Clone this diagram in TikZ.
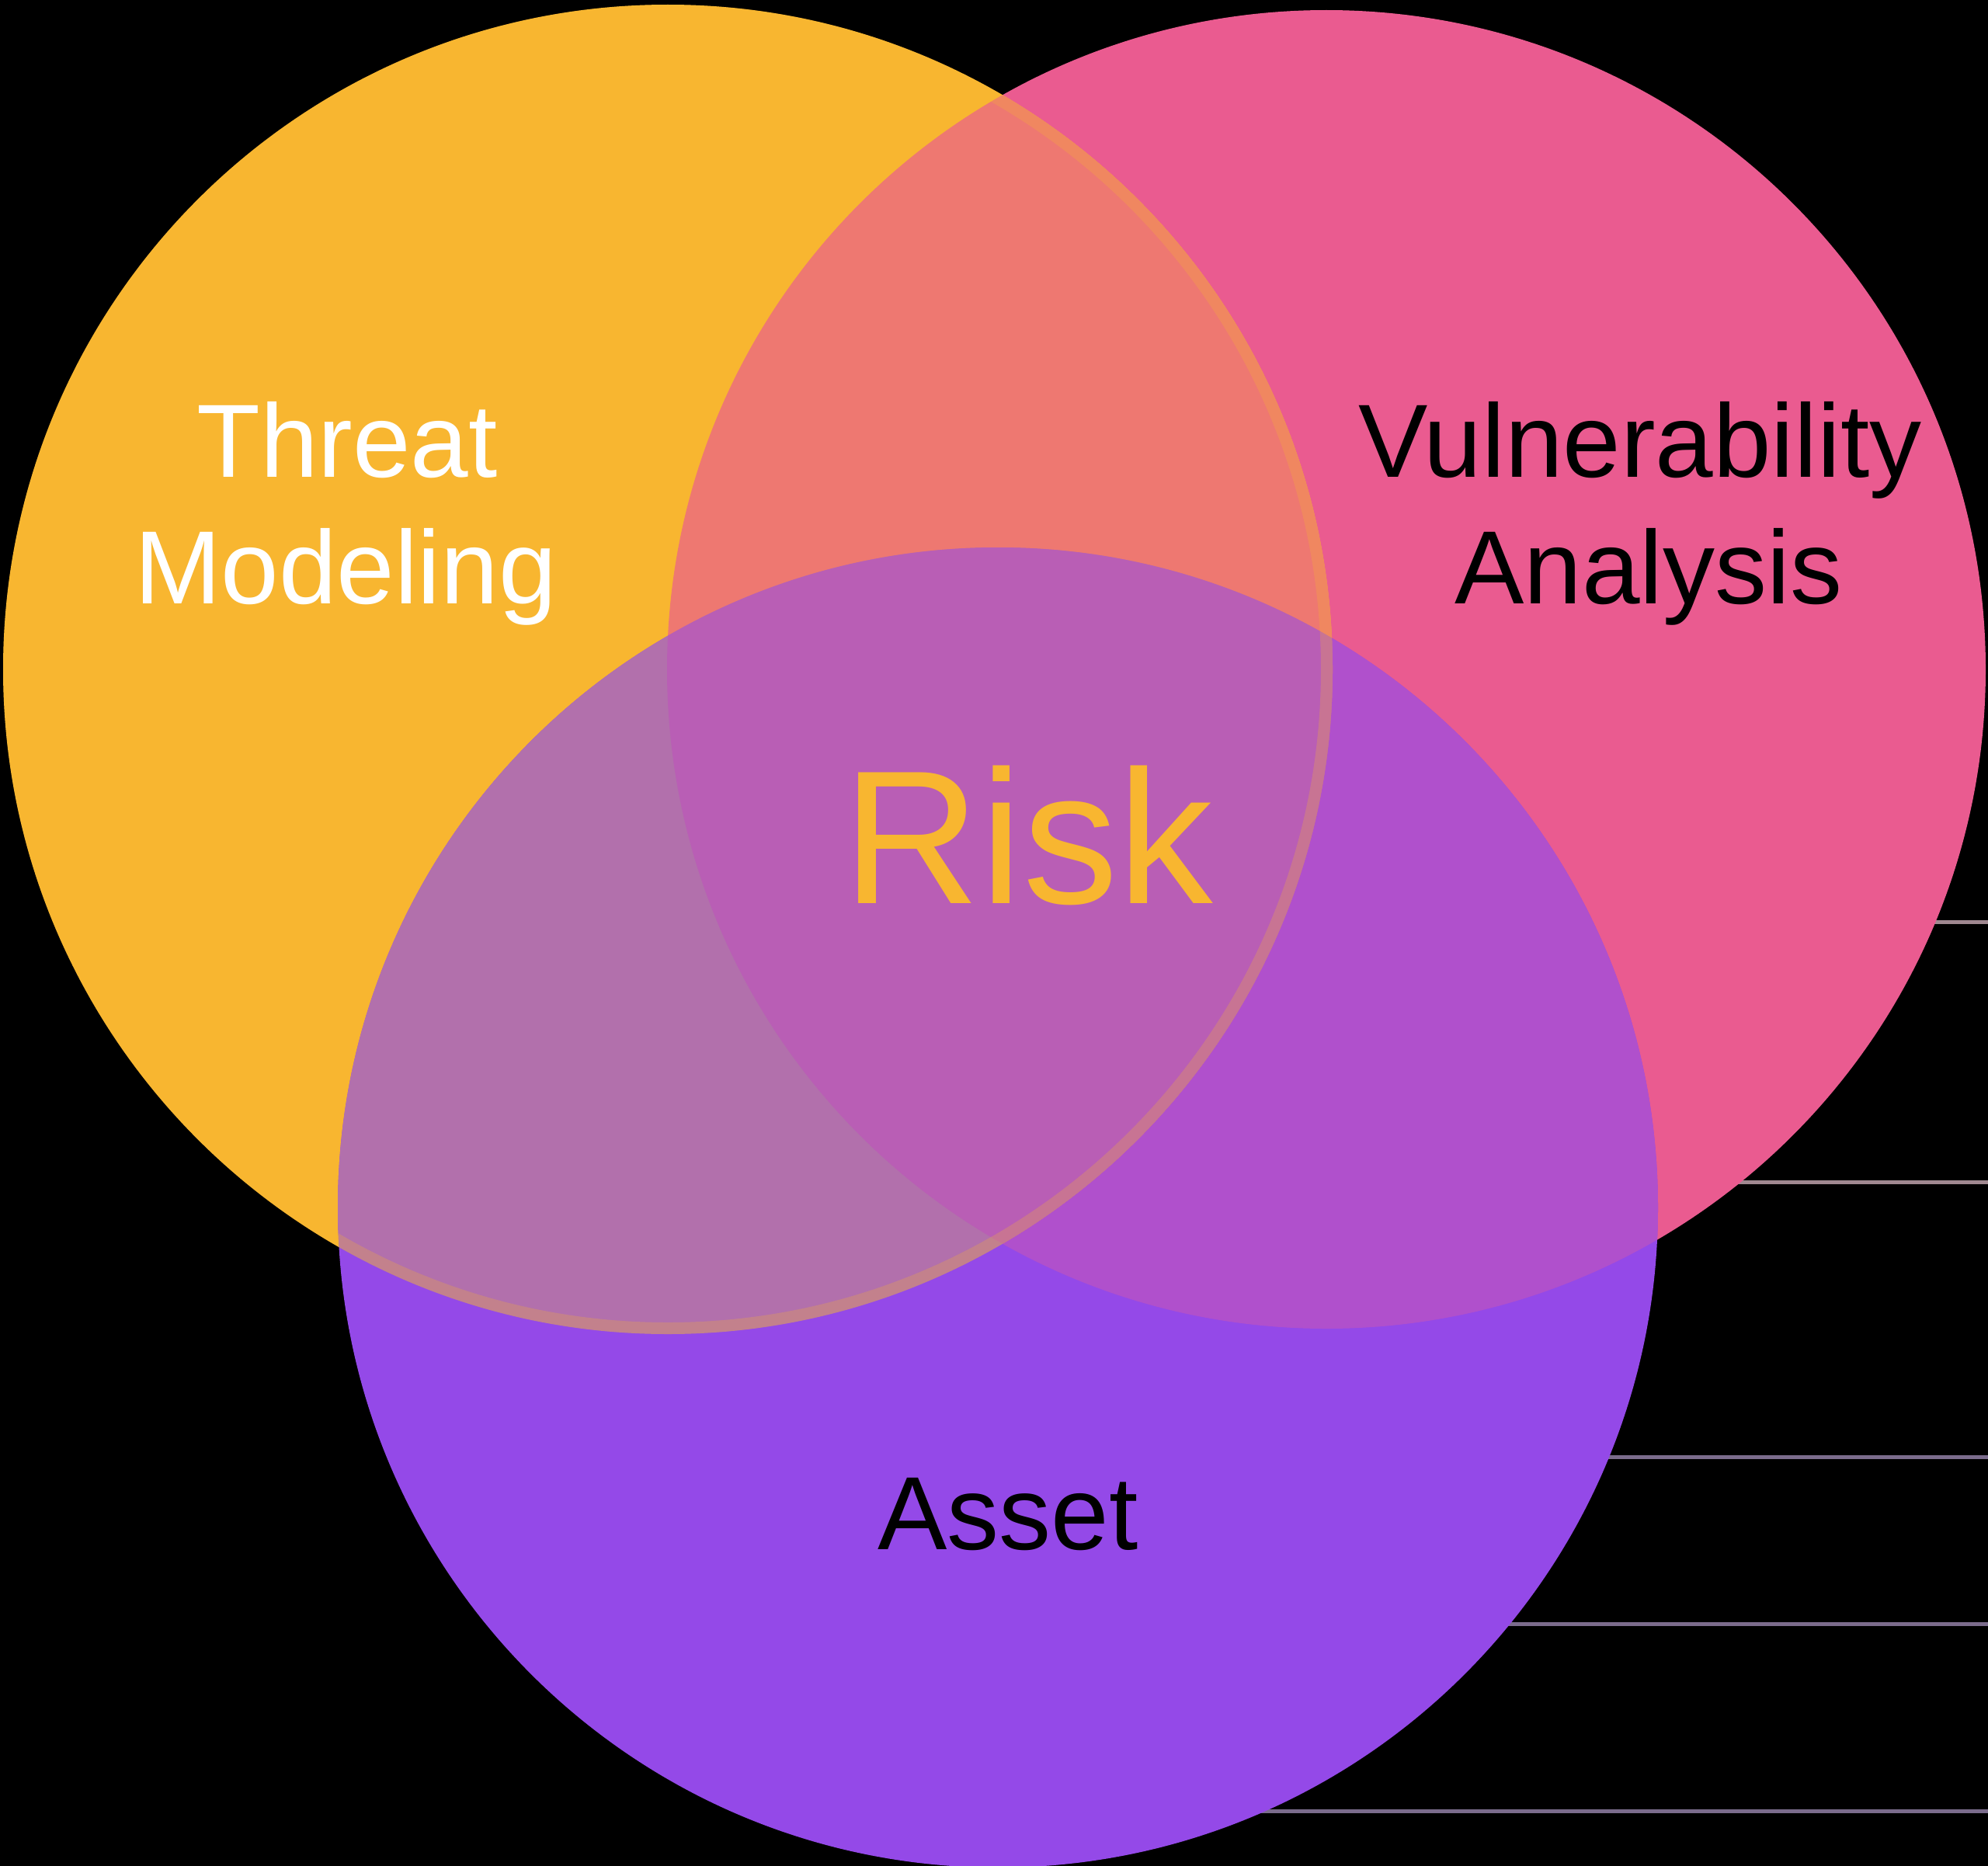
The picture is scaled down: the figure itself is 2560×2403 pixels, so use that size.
\documentclass[tikz,border=0pt]{standalone}
\usepackage{fontspec}
\setmainfont{Liberation Sans}
\definecolor{corange}{HTML}{F8B630}
\definecolor{cpink}{HTML}{EA5B90}
\definecolor{cpurple}{HTML}{9449E8}
\definecolor{cop}{HTML}{EE7871}
\definecolor{cou}{HTML}{B270AC}
\definecolor{cpu}{HTML}{B050CC}
\definecolor{call}{HTML}{B95EB5}
\definecolor{linepink}{HTML}{A08890}
\definecolor{linepurple}{HTML}{7B6C8C}
\tikzset{
  lbl/.style={inner sep=0pt, anchor=base, font=\fontsize{134}{160}\selectfont},
  artline/.style={line width=5pt},
}
\begin{document}
\begin{tikzpicture}[x=1pt,y=-1pt]
\fill[black] (0,0) rectangle (2560,2403);
\useasboundingbox (0,0) rectangle (2560,2403);
% faint horizontal lines at the right
\coordinate (l1a) at (2300,1187); \coordinate (l1b) at (2560,1187);
\coordinate (l2a) at (2000,1522); \coordinate (l2b) at (2560,1522);
\coordinate (l3a) at (1700,1876); \coordinate (l3b) at (2560,1876);
\coordinate (l4a) at (1600,2091); \coordinate (l4b) at (2560,2091);
\coordinate (l5a) at (1300,2332); \coordinate (l5b) at (2560,2332);
\draw[artline, linepink] (l1a) -- (l1b);
\draw[artline, linepink] (l2a) -- (l2b);
\draw[artline, linepurple] (l3a) -- (l3b);
\draw[artline, linepurple] (l4a) -- (l4b);
\draw[artline, linepurple] (l5a) -- (l5b);
% circles
\def\CO{(860,862) circle[radius=856]}
\def\CP{(1708,862) circle[radius=849]}
\def\CU{(1285,1555) circle[radius=850]}
\fill[cpink] \CP;
\fill[corange] \CO;
\fill[cpurple] \CU;
\begin{scope}
  \clip \CP;
  \fill[cpu] \CU;
\end{scope}
\begin{scope}
  \clip \CO;
  \fill[cop] \CP;
  \fill[cou] \CU;
  \clip \CU;
  \fill[call] \CP;
\end{scope}
\begin{scope}
  \clip \CO;
  \draw[corange, line width=30pt, draw opacity=0.25] \CO;
\end{scope}
% labels
\node[lbl, text=white] (tm1) at (447,614) {Threat};
\node[lbl, text=white] (tm2) at (445,777) {Modeling};
\node[lbl, text=black] (va1) at (2112,614) {Vulnerability};
\node[lbl, text=black] (va2) at (2123,777) {Analysis};
\node[lbl, text=black] (as) at (1298,1995) {Asset};
\node[inner sep=0pt, anchor=base, text=corange, font=\fontsize{245}{290}\selectfont] (risk) at (1324,1163) {Risk};
\end{tikzpicture}
\end{document}
